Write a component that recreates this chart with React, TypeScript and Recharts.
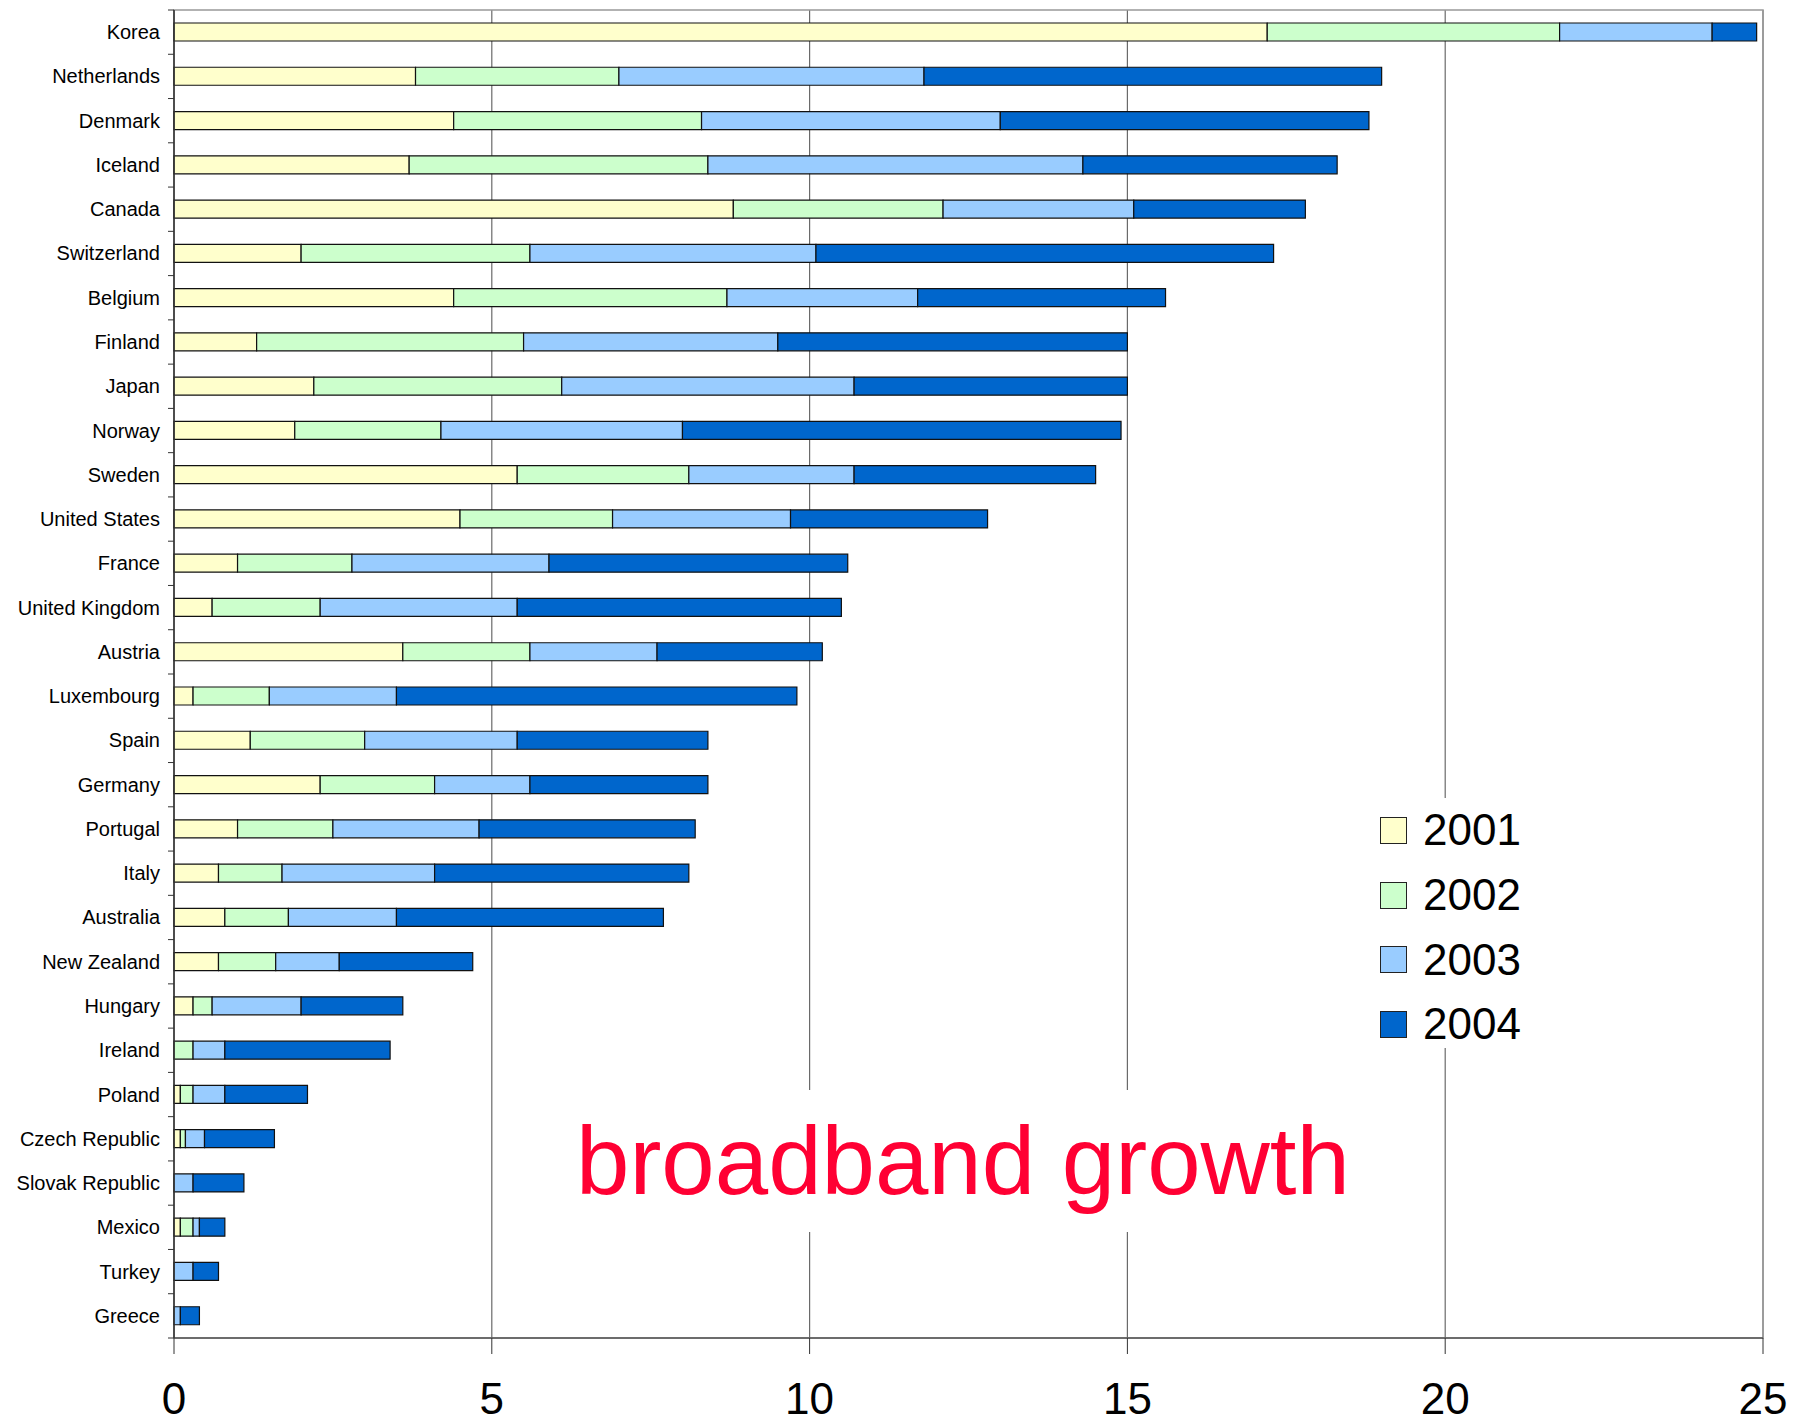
import React from 'react';
import { BarChart, Bar, XAxis, YAxis, CartesianGrid, Legend, ReferenceArea } from 'recharts';

const countries = [
  'Korea', 'Netherlands', 'Denmark', 'Iceland', 'Canada', 'Switzerland', 'Belgium', 'Finland',
  'Japan', 'Norway', 'Sweden', 'United States', 'France', 'United Kingdom', 'Austria',
  'Luxembourg', 'Spain', 'Germany', 'Portugal', 'Italy', 'Australia', 'New Zealand', 'Hungary',
  'Ireland', 'Poland', 'Czech Republic', 'Slovak Republic', 'Mexico', 'Turkey', 'Greece',
];
const v2001 = [17.2, 3.8, 4.4, 3.7, 8.8, 2.0, 4.4, 1.3, 2.2, 1.9, 5.4, 4.5, 1.0, 0.6, 3.6, 0.3, 1.2, 2.3, 1.0, 0.7, 0.8, 0.7, 0.3, 0.0, 0.1, 0.1, 0.0, 0.1, 0.0, 0.0];
const v2002 = [4.6, 3.2, 3.9, 4.7, 3.3, 3.6, 4.3, 4.2, 3.9, 2.3, 2.7, 2.4, 1.8, 1.7, 2.0, 1.2, 1.8, 1.8, 1.5, 1.0, 1.0, 0.9, 0.3, 0.3, 0.2, 0.08, 0.0, 0.2, 0.0, 0.0];
const v2003 = [2.4, 4.8, 4.7, 5.9, 3.0, 4.5, 3.0, 4.0, 4.6, 3.8, 2.6, 2.8, 3.1, 3.1, 2.0, 2.0, 2.4, 1.5, 2.3, 2.4, 1.7, 1.0, 1.4, 0.5, 0.5, 0.3, 0.3, 0.1, 0.3, 0.1];
const v2004 = [0.7, 7.2, 5.8, 4.0, 2.7, 7.2, 3.9, 5.5, 4.3, 6.9, 3.8, 3.1, 4.7, 5.1, 2.6, 6.3, 3.0, 2.8, 3.4, 4.0, 4.2, 2.1, 1.6, 2.6, 1.3, 1.1, 0.8, 0.4, 0.4, 0.3];
const years = ['2001', '2002', '2003', '2004'];
const colors = ['#FFFFCC', '#CCFFCC', '#99CCFF', '#0066CC'];
const xTicks = [0, 5, 10, 15, 20, 25];
const titleText = 'broadband growth';

const seriesValues = [v2001, v2002, v2003, v2004];
const data = countries.map((c, i) => {
  const row: Record<string, any> = { country: c };
  years.forEach((y, k) => { row[y] = seriesValues[k][i]; });
  return row;
});

const W = 1800;
const H = 1416;
const M_TOP = 2;
const X_AXIS_H = 86;
const Y_AXIS_W = 166;
const BAND = (H - M_TOP - X_AXIS_H) / countries.length;
const FONT = '"Liberation Sans", Arial, Helvetica, sans-serif';

const CategoryTick = (props: any) => {
  const { x, y, payload, index } = props;
  const axisX = x + 14;
  return (
    <g>
      <text x={x} y={y} textAnchor="end" dominantBaseline="central" fontSize={20} fontFamily={FONT} fill="#000">
        {payload.value}
      </text>
      <line x1={axisX - 6} x2={axisX} y1={y + BAND / 2} y2={y + BAND / 2} stroke="#333" strokeWidth={1} />
      {index === 0 ? (
        <line x1={axisX - 6} x2={axisX} y1={y - BAND / 2} y2={y - BAND / 2} stroke="#333" strokeWidth={1} />
      ) : null}
    </g>
  );
};

const LegendContent = (props: any) => {
  const items = [...(props.payload || [])].sort((a: any, b: any) =>
    String(a.dataKey).localeCompare(String(b.dataKey)));
  return (
    <div style={{ background: '#fff', width: 180, height: 250, fontFamily: FONT }}>
      {items.map((it: any) => (
        <div key={String(it.dataKey)} style={{ height: 64.7, display: 'flex', alignItems: 'center' }}>
          <div style={{ width: 25, height: 25, marginLeft: 12, background: it.color, border: '1.5px solid #222' }} />
          <span style={{ marginLeft: 16, fontSize: 44, color: '#000', lineHeight: 1 }}>{it.value}</span>
        </div>
      ))}
    </div>
  );
};

export default function App() {
  return (
    <div style={{ position: 'relative', width: W, height: H, background: '#fff', marginBottom: -8 }}>
      <BarChart
        width={W}
        height={H}
        data={data}
        layout="vertical"
        margin={{ top: M_TOP, right: 45, bottom: 0, left: 0 }}
      >
        <CartesianGrid horizontal={false} vertical stroke="#6a6a6a" strokeWidth={1.2} />
        <XAxis
          type="number"
          domain={[0, 25]}
          ticks={xTicks}
          interval={0}
          height={X_AXIS_H}
          tickSize={16}
          tickMargin={29}
          axisLine={{ stroke: '#555', strokeWidth: 1.5 }}
          tickLine={{ stroke: '#333' }}
          tick={{ fontSize: 44, fill: '#000', fontFamily: FONT }}
        />
        <YAxis
          type="category"
          dataKey="country"
          width={Y_AXIS_W}
          interval={0}
          tickSize={0}
          tickMargin={14}
          tickLine={false}
          axisLine={{ stroke: '#333', strokeWidth: 1.5 }}
          tick={<CategoryTick />}
        />
        <ReferenceArea x1={0} x2={25} fill="none" stroke="#999" strokeWidth={1.5} />
        {years.map((y, k) => (
          <Bar
            key={y}
            dataKey={y}
            name={y}
            stackId="a"
            fill={colors[k]}
            stroke="#111"
            strokeWidth={1.2}
            barSize={18}
            isAnimationActive={false}
          />
        ))}
        <Legend
          layout="vertical"
          align="center"
          verticalAlign="middle"
          wrapperStyle={{ left: 1360, top: 790, width: 180, height: 250 }}
          content={<LegendContent />}
        />
      </BarChart>
      <div
        style={{
          position: 'absolute',
          left: 556,
          top: 1082,
          width: 800,
          height: 142,
          background: '#fff',
          color: '#FF0033',
          fontFamily: FONT,
          fontSize: 96,
          lineHeight: '142px',
          paddingLeft: 12,
          boxSizing: 'border-box',
          whiteSpace: 'nowrap',
        }}
      >
        {titleText}
      </div>
    </div>
  );
}
